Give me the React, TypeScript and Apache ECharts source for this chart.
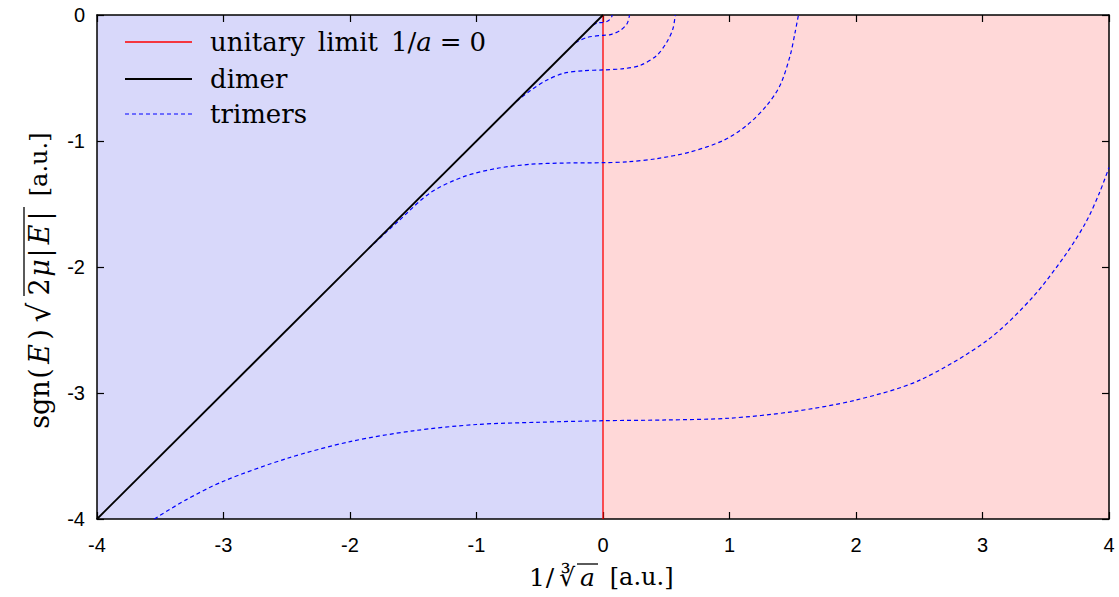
import React, { useEffect, useRef } from "react";
import * as echarts from "echarts";

// ---- data ----
const xTickMin = -4;
const xTickMax = 4;
const yTickMin = -4;
const yTickMax = 0;

const unitaryLine: [number, number][] = [[0, -4], [0, 0]];
const dimerLine: [number, number][] = [[-4, -4], [0, 0]];

const trimer1: [number, number][] = [
  [-3.547, -4], [-3.3, -3.85], [-3.0, -3.70], [-2.5, -3.52], [-2.0, -3.386],
  [-1.5, -3.30], [-1.0, -3.25], [-0.5, -3.232], [0, -3.22], [0.5, -3.214],
  [1.0, -3.20], [1.5, -3.148], [2.0, -3.056], [2.5, -2.90], [3.04, -2.58],
  [3.4, -2.236], [3.665, -1.89], [3.82, -1.64], [3.925, -1.41], [4.0, -1.21],
];
const trimer2: [number, number][] = [
  [-1.85, -1.85], [-1.627, -1.645], [-1.364, -1.41], [-1.101, -1.283],
  [-0.837, -1.217], [-0.574, -1.185], [-0.311, -1.175], [0, -1.172],
  [0.2, -1.165], [0.426, -1.14], [0.69, -1.087], [0.953, -0.995],
  [1.137, -0.876], [1.295, -0.717], [1.40, -0.558], [1.48, -0.32],
  [1.519, -0.135], [1.545, 0],
];
const trimer3: [number, number][] = [
  [-0.685, -0.685], [-0.574, -0.60], [-0.442, -0.516], [-0.311, -0.463],
  [-0.153, -0.442], [0, -0.436], [0.163, -0.426], [0.295, -0.40],
  [0.426, -0.32], [0.505, -0.214], [0.553, -0.108], [0.571, 0],
];
const trimer4: [number, number][] = [
  [-0.22, -0.22], [-0.126, -0.178], [0, -0.161], [0.058, -0.156],
  [0.137, -0.122], [0.19, -0.069], [0.21, 0],
];
const trimer5: [number, number][] = [
  [-0.08, -0.08], [-0.04, -0.062], [0, -0.059], [0.03, -0.052],
  [0.055, -0.035], [0.07, -0.012], [0.073, 0],
];
const trimers = [trimer1, trimer2, trimer3, trimer4, trimer5];

const regionBound = [-4, 0, 4];

const legendNames = ["unitary limit 1/a = 0", "dimer", "trimers"];

const SERIF = "'DejaVu Serif', 'Liberation Serif', serif";
const SANS = "'Liberation Sans', Arial, sans-serif";

export default function App() {
  const ref = useRef<HTMLDivElement>(null);

  useEffect(() => {
    if (!ref.current) return;
    const chart = echarts.init(ref.current, undefined, { renderer: "svg" });

    const base = { fontFamily: SERIF, fontSize: 26, color: "#000", lineHeight: 30 };
    const legendRich = {
      n: { ...base },
      i: { ...base, fontStyle: "italic" },
      g: { ...base, width: 13 },
      h: { ...base, width: 8 },
    };
    const lab = { fontFamily: SERIF, fontSize: 27, color: "#000", lineHeight: 32, align: "center" };
    const yRich = {
      a: { ...lab, width: 50 },
      b: { ...lab, width: 12 },
      e: { ...lab, fontStyle: "italic", width: 27 },
      r: { ...lab, fontSize: 31, width: 32 },
      c: { ...lab, width: 19 },
      m: { ...lab, fontStyle: "italic", width: 19 },
      v: { ...lab, width: 11 },
      f: { ...lab, fontStyle: "italic", width: 26 },
      u: { ...lab, fontSize: 24, width: 78, align: "right" },
    };
    const xRich = {
      c: { ...lab, fontSize: 25, width: 13 },
      s: { ...lab, fontSize: 25, width: 13 },
      r: { ...lab, fontSize: 25, width: 21 },
      i: { ...lab, fontSize: 25, fontStyle: "italic", width: 20 },
      u: { ...lab, fontSize: 24, width: 76, align: "right" },
    };

    const trimerSeries = trimers.map((d) => ({
      type: "line",
      name: "trimers",
      data: d,
      showSymbol: false,
      symbol: "none",
      smooth: 0.3,
      z: 4,
      lineStyle: { color: "#0000ff", width: 1.2, type: [4, 3] },
      itemStyle: { color: "#0000ff" },
    }));

    const axisCommon = {
      type: "value",
      axisLine: { show: true, onZero: false, lineStyle: { color: "#000", width: 1.5 } },
      axisTick: { show: true, inside: true, length: 7, lineStyle: { color: "#000", width: 1.2 } },
      splitLine: { show: false },
    };

    const legendRows = [42, 79, 114];
    const legendStyles = [
      { stroke: "#ff0000", lineWidth: 1.3 },
      { stroke: "#000000", lineWidth: 1.8 },
      { stroke: "#0000ff", lineWidth: 1.2, lineDash: [4, 3] },
    ];
    const legendTexts = [
      "{n|unitary}{g| }{n|limit}{g| }{n|1/}{i|a}{h| }{n|=}{h| }{n|0}",
      "{n|" + legendNames[1] + "}",
      "{n|" + legendNames[2] + "}",
    ];
    const legendGraphics: any[] = [];
    legendRows.forEach((y, k) => {
      legendGraphics.push({
        type: "line",
        z: 10,
        shape: { x1: 125, y1: y, x2: 192, y2: y },
        style: legendStyles[k],
      });
      legendGraphics.push({
        type: "text",
        z: 10,
        x: 210,
        y: y,
        style: { text: legendTexts[k], rich: legendRich, align: "left", verticalAlign: "middle" },
      });
    });

    chart.setOption({
      animation: false,
      backgroundColor: "#fff",
      grid: { left: 97, right: 10, top: 15, bottom: 78, containLabel: false },
      legend: { show: false, data: legendNames },
      xAxis: [
        {
          ...axisCommon,
          position: "bottom",
          min: xTickMin,
          max: xTickMax,
          interval: 1,
          axisLabel: { show: true, fontFamily: SANS, fontSize: 20, color: "#000", margin: 16 },
        },
        {
          ...axisCommon,
          position: "top",
          min: xTickMin,
          max: xTickMax,
          interval: 1,
          axisLabel: { show: false },
        },
      ],
      yAxis: [
        {
          ...axisCommon,
          position: "left",
          min: yTickMin,
          max: yTickMax,
          interval: 1,
          axisLabel: { show: true, fontFamily: SANS, fontSize: 20, color: "#000", margin: 12 },
        },
        {
          ...axisCommon,
          position: "right",
          min: yTickMin,
          max: yTickMax,
          interval: 1,
          axisLabel: { show: false },
        },
      ],
      graphic: [
        ...legendGraphics,
        {
          type: "text",
          x: 39,
          y: 281,
          rotation: Math.PI / 2,
          style: {
            text: "{a|sgn}{b|(}{e|E}{b|)}{r|√}{c|2}{m|μ}{v||}{f|E}{v||}{u|[a.u.]}",
            rich: yRich,
            align: "center",
            verticalAlign: "middle",
          },
        },
        {
          type: "line",
          shape: { x1: 24, y1: 296, x2: 24, y2: 207 },
          style: { stroke: "#000", lineWidth: 1.3 },
        },
        {
          type: "text",
          x: 602,
          y: 577,
          style: {
            text: "{c|1}{s|/}{r|∛}{i|a}{u|[a.u.]}",
            rich: xRich,
            align: "center",
            verticalAlign: "middle",
          },
        },
        {
          type: "line",
          shape: { x1: 577, y1: 564, x2: 598, y2: 564 },
          style: { stroke: "#000", lineWidth: 1.3 },
        },
      ],
      series: [
        {
          type: "line",
          name: "background",
          data: [],
          z: 0,
          silent: true,
          markArea: {
            silent: true,
            z: 0,
            data: [
              [{ xAxis: regionBound[0], itemStyle: { color: "#d8d8fa" } }, { xAxis: regionBound[1] }],
              [{ xAxis: regionBound[1], itemStyle: { color: "#ffd8d8" } }, { xAxis: regionBound[2] }],
            ],
          },
        },
        {
          type: "line",
          name: legendNames[0],
          data: unitaryLine,
          showSymbol: false,
          symbol: "none",
          z: 3,
          lineStyle: { color: "#ff0000", width: 1.3 },
          itemStyle: { color: "#ff0000" },
        },
        {
          type: "line",
          name: legendNames[1],
          data: dimerLine,
          showSymbol: false,
          symbol: "none",
          z: 5,
          lineStyle: { color: "#000", width: 1.8 },
          itemStyle: { color: "#000" },
        },
        ...trimerSeries,
      ],
    });

    return () => chart.dispose();
  }, []);

  return (
    <div
      ref={ref}
      style={{ position: "fixed", left: 0, top: 0, width: 1119, height: 597, background: "#fff" }}
    />
  );
}
